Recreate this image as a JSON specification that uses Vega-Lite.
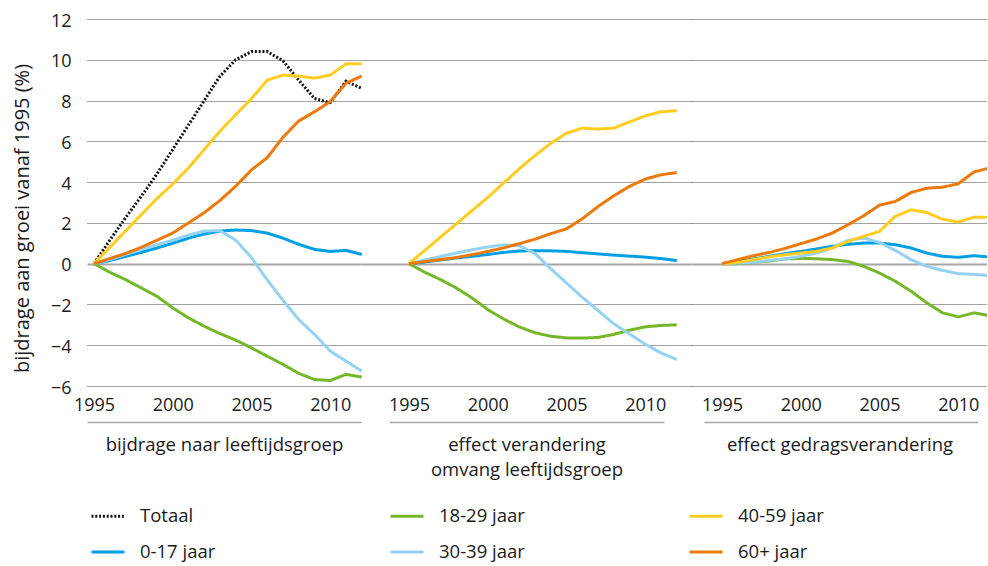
{
  "$schema": "https://vega.github.io/schema/vega-lite/v6.json",
  "background": "white",
  "padding": {"left": 12, "top": 12, "right": 0, "bottom": 0},
  "config": {
    "font": "Open Sans",
    "view": {"stroke": null},
    "axis": {"labelColor": "#1a1a1a", "titleColor": "#1a1a1a", "titleFontWeight": "normal"}
  },
  "datasets": {
    "bijdrage": [
      {"reeks": "Totaal", "jaar": 1995, "waarde": 0}, {"reeks": "Totaal", "jaar": 1996, "waarde": 1.15}, {"reeks": "Totaal", "jaar": 1997, "waarde": 2.25}, {"reeks": "Totaal", "jaar": 1998, "waarde": 3.3}, {"reeks": "Totaal", "jaar": 1999, "waarde": 4.4}, {"reeks": "Totaal", "jaar": 2000, "waarde": 5.6}, {"reeks": "Totaal", "jaar": 2001, "waarde": 6.8}, {"reeks": "Totaal", "jaar": 2002, "waarde": 8.0}, {"reeks": "Totaal", "jaar": 2003, "waarde": 9.2}, {"reeks": "Totaal", "jaar": 2004, "waarde": 10.0}, {"reeks": "Totaal", "jaar": 2005, "waarde": 10.4}, {"reeks": "Totaal", "jaar": 2006, "waarde": 10.4}, {"reeks": "Totaal", "jaar": 2007, "waarde": 9.95}, {"reeks": "Totaal", "jaar": 2008, "waarde": 9.0}, {"reeks": "Totaal", "jaar": 2009, "waarde": 8.1}, {"reeks": "Totaal", "jaar": 2010, "waarde": 7.9}, {"reeks": "Totaal", "jaar": 2011, "waarde": 8.95}, {"reeks": "Totaal", "jaar": 2012, "waarde": 8.6},
      {"reeks": "0-17 jaar", "jaar": 1995, "waarde": 0}, {"reeks": "0-17 jaar", "jaar": 1996, "waarde": 0.15}, {"reeks": "0-17 jaar", "jaar": 1997, "waarde": 0.35}, {"reeks": "0-17 jaar", "jaar": 1998, "waarde": 0.55}, {"reeks": "0-17 jaar", "jaar": 1999, "waarde": 0.77}, {"reeks": "0-17 jaar", "jaar": 2000, "waarde": 1.0}, {"reeks": "0-17 jaar", "jaar": 2001, "waarde": 1.25}, {"reeks": "0-17 jaar", "jaar": 2002, "waarde": 1.45}, {"reeks": "0-17 jaar", "jaar": 2003, "waarde": 1.6}, {"reeks": "0-17 jaar", "jaar": 2004, "waarde": 1.65}, {"reeks": "0-17 jaar", "jaar": 2005, "waarde": 1.62}, {"reeks": "0-17 jaar", "jaar": 2006, "waarde": 1.5}, {"reeks": "0-17 jaar", "jaar": 2007, "waarde": 1.25}, {"reeks": "0-17 jaar", "jaar": 2008, "waarde": 0.95}, {"reeks": "0-17 jaar", "jaar": 2009, "waarde": 0.7}, {"reeks": "0-17 jaar", "jaar": 2010, "waarde": 0.6}, {"reeks": "0-17 jaar", "jaar": 2011, "waarde": 0.65}, {"reeks": "0-17 jaar", "jaar": 2012, "waarde": 0.45},
      {"reeks": "18-29 jaar", "jaar": 1995, "waarde": 0}, {"reeks": "18-29 jaar", "jaar": 1996, "waarde": -0.42}, {"reeks": "18-29 jaar", "jaar": 1997, "waarde": -0.78}, {"reeks": "18-29 jaar", "jaar": 1998, "waarde": -1.19}, {"reeks": "18-29 jaar", "jaar": 1999, "waarde": -1.6}, {"reeks": "18-29 jaar", "jaar": 2000, "waarde": -2.17}, {"reeks": "18-29 jaar", "jaar": 2001, "waarde": -2.66}, {"reeks": "18-29 jaar", "jaar": 2002, "waarde": -3.07}, {"reeks": "18-29 jaar", "jaar": 2003, "waarde": -3.43}, {"reeks": "18-29 jaar", "jaar": 2004, "waarde": -3.75}, {"reeks": "18-29 jaar", "jaar": 2005, "waarde": -4.13}, {"reeks": "18-29 jaar", "jaar": 2006, "waarde": -4.54}, {"reeks": "18-29 jaar", "jaar": 2007, "waarde": -4.94}, {"reeks": "18-29 jaar", "jaar": 2008, "waarde": -5.38}, {"reeks": "18-29 jaar", "jaar": 2009, "waarde": -5.68}, {"reeks": "18-29 jaar", "jaar": 2010, "waarde": -5.73}, {"reeks": "18-29 jaar", "jaar": 2011, "waarde": -5.43}, {"reeks": "18-29 jaar", "jaar": 2012, "waarde": -5.56},
      {"reeks": "30-39 jaar", "jaar": 1995, "waarde": 0}, {"reeks": "30-39 jaar", "jaar": 1996, "waarde": 0.2}, {"reeks": "30-39 jaar", "jaar": 1997, "waarde": 0.45}, {"reeks": "30-39 jaar", "jaar": 1998, "waarde": 0.7}, {"reeks": "30-39 jaar", "jaar": 1999, "waarde": 0.93}, {"reeks": "30-39 jaar", "jaar": 2000, "waarde": 1.15}, {"reeks": "30-39 jaar", "jaar": 2001, "waarde": 1.4}, {"reeks": "30-39 jaar", "jaar": 2002, "waarde": 1.6}, {"reeks": "30-39 jaar", "jaar": 2003, "waarde": 1.62}, {"reeks": "30-39 jaar", "jaar": 2004, "waarde": 1.15}, {"reeks": "30-39 jaar", "jaar": 2005, "waarde": 0.3}, {"reeks": "30-39 jaar", "jaar": 2006, "waarde": -0.8}, {"reeks": "30-39 jaar", "jaar": 2007, "waarde": -1.8}, {"reeks": "30-39 jaar", "jaar": 2008, "waarde": -2.74}, {"reeks": "30-39 jaar", "jaar": 2009, "waarde": -3.47}, {"reeks": "30-39 jaar", "jaar": 2010, "waarde": -4.29}, {"reeks": "30-39 jaar", "jaar": 2011, "waarde": -4.78}, {"reeks": "30-39 jaar", "jaar": 2012, "waarde": -5.27},
      {"reeks": "40-59 jaar", "jaar": 1995, "waarde": 0}, {"reeks": "40-59 jaar", "jaar": 1996, "waarde": 0.8}, {"reeks": "40-59 jaar", "jaar": 1997, "waarde": 1.6}, {"reeks": "40-59 jaar", "jaar": 1998, "waarde": 2.4}, {"reeks": "40-59 jaar", "jaar": 1999, "waarde": 3.2}, {"reeks": "40-59 jaar", "jaar": 2000, "waarde": 3.9}, {"reeks": "40-59 jaar", "jaar": 2001, "waarde": 4.7}, {"reeks": "40-59 jaar", "jaar": 2002, "waarde": 5.6}, {"reeks": "40-59 jaar", "jaar": 2003, "waarde": 6.5}, {"reeks": "40-59 jaar", "jaar": 2004, "waarde": 7.3}, {"reeks": "40-59 jaar", "jaar": 2005, "waarde": 8.1}, {"reeks": "40-59 jaar", "jaar": 2006, "waarde": 9.0}, {"reeks": "40-59 jaar", "jaar": 2007, "waarde": 9.25}, {"reeks": "40-59 jaar", "jaar": 2008, "waarde": 9.2}, {"reeks": "40-59 jaar", "jaar": 2009, "waarde": 9.1}, {"reeks": "40-59 jaar", "jaar": 2010, "waarde": 9.25}, {"reeks": "40-59 jaar", "jaar": 2011, "waarde": 9.8}, {"reeks": "40-59 jaar", "jaar": 2012, "waarde": 9.8},
      {"reeks": "60+ jaar", "jaar": 1995, "waarde": 0}, {"reeks": "60+ jaar", "jaar": 1996, "waarde": 0.25}, {"reeks": "60+ jaar", "jaar": 1997, "waarde": 0.5}, {"reeks": "60+ jaar", "jaar": 1998, "waarde": 0.8}, {"reeks": "60+ jaar", "jaar": 1999, "waarde": 1.15}, {"reeks": "60+ jaar", "jaar": 2000, "waarde": 1.5}, {"reeks": "60+ jaar", "jaar": 2001, "waarde": 2.0}, {"reeks": "60+ jaar", "jaar": 2002, "waarde": 2.5}, {"reeks": "60+ jaar", "jaar": 2003, "waarde": 3.1}, {"reeks": "60+ jaar", "jaar": 2004, "waarde": 3.8}, {"reeks": "60+ jaar", "jaar": 2005, "waarde": 4.6}, {"reeks": "60+ jaar", "jaar": 2006, "waarde": 5.2}, {"reeks": "60+ jaar", "jaar": 2007, "waarde": 6.2}, {"reeks": "60+ jaar", "jaar": 2008, "waarde": 7.0}, {"reeks": "60+ jaar", "jaar": 2009, "waarde": 7.45}, {"reeks": "60+ jaar", "jaar": 2010, "waarde": 7.95}, {"reeks": "60+ jaar", "jaar": 2011, "waarde": 8.85}, {"reeks": "60+ jaar", "jaar": 2012, "waarde": 9.2}
    ],
    "omvang": [
      {"reeks": "0-17 jaar", "jaar": 1995, "waarde": 0}, {"reeks": "0-17 jaar", "jaar": 1996, "waarde": 0.08}, {"reeks": "0-17 jaar", "jaar": 1997, "waarde": 0.18}, {"reeks": "0-17 jaar", "jaar": 1998, "waarde": 0.28}, {"reeks": "0-17 jaar", "jaar": 1999, "waarde": 0.36}, {"reeks": "0-17 jaar", "jaar": 2000, "waarde": 0.45}, {"reeks": "0-17 jaar", "jaar": 2001, "waarde": 0.55}, {"reeks": "0-17 jaar", "jaar": 2002, "waarde": 0.62}, {"reeks": "0-17 jaar", "jaar": 2003, "waarde": 0.64}, {"reeks": "0-17 jaar", "jaar": 2004, "waarde": 0.63}, {"reeks": "0-17 jaar", "jaar": 2005, "waarde": 0.6}, {"reeks": "0-17 jaar", "jaar": 2006, "waarde": 0.54}, {"reeks": "0-17 jaar", "jaar": 2007, "waarde": 0.48}, {"reeks": "0-17 jaar", "jaar": 2008, "waarde": 0.42}, {"reeks": "0-17 jaar", "jaar": 2009, "waarde": 0.37}, {"reeks": "0-17 jaar", "jaar": 2010, "waarde": 0.32}, {"reeks": "0-17 jaar", "jaar": 2011, "waarde": 0.25}, {"reeks": "0-17 jaar", "jaar": 2012, "waarde": 0.15},
      {"reeks": "18-29 jaar", "jaar": 1995, "waarde": 0}, {"reeks": "18-29 jaar", "jaar": 1996, "waarde": -0.42}, {"reeks": "18-29 jaar", "jaar": 1997, "waarde": -0.78}, {"reeks": "18-29 jaar", "jaar": 1998, "waarde": -1.19}, {"reeks": "18-29 jaar", "jaar": 1999, "waarde": -1.68}, {"reeks": "18-29 jaar", "jaar": 2000, "waarde": -2.25}, {"reeks": "18-29 jaar", "jaar": 2001, "waarde": -2.71}, {"reeks": "18-29 jaar", "jaar": 2002, "waarde": -3.1}, {"reeks": "18-29 jaar", "jaar": 2003, "waarde": -3.39}, {"reeks": "18-29 jaar", "jaar": 2004, "waarde": -3.56}, {"reeks": "18-29 jaar", "jaar": 2005, "waarde": -3.64}, {"reeks": "18-29 jaar", "jaar": 2006, "waarde": -3.65}, {"reeks": "18-29 jaar", "jaar": 2007, "waarde": -3.62}, {"reeks": "18-29 jaar", "jaar": 2008, "waarde": -3.47}, {"reeks": "18-29 jaar", "jaar": 2009, "waarde": -3.26}, {"reeks": "18-29 jaar", "jaar": 2010, "waarde": -3.1}, {"reeks": "18-29 jaar", "jaar": 2011, "waarde": -3.03}, {"reeks": "18-29 jaar", "jaar": 2012, "waarde": -3.0},
      {"reeks": "30-39 jaar", "jaar": 1995, "waarde": 0}, {"reeks": "30-39 jaar", "jaar": 1996, "waarde": 0.18}, {"reeks": "30-39 jaar", "jaar": 1997, "waarde": 0.35}, {"reeks": "30-39 jaar", "jaar": 1998, "waarde": 0.52}, {"reeks": "30-39 jaar", "jaar": 1999, "waarde": 0.68}, {"reeks": "30-39 jaar", "jaar": 2000, "waarde": 0.82}, {"reeks": "30-39 jaar", "jaar": 2001, "waarde": 0.92}, {"reeks": "30-39 jaar", "jaar": 2002, "waarde": 0.88}, {"reeks": "30-39 jaar", "jaar": 2003, "waarde": 0.5}, {"reeks": "30-39 jaar", "jaar": 2004, "waarde": -0.25}, {"reeks": "30-39 jaar", "jaar": 2005, "waarde": -0.95}, {"reeks": "30-39 jaar", "jaar": 2006, "waarde": -1.65}, {"reeks": "30-39 jaar", "jaar": 2007, "waarde": -2.3}, {"reeks": "30-39 jaar", "jaar": 2008, "waarde": -2.95}, {"reeks": "30-39 jaar", "jaar": 2009, "waarde": -3.45}, {"reeks": "30-39 jaar", "jaar": 2010, "waarde": -3.95}, {"reeks": "30-39 jaar", "jaar": 2011, "waarde": -4.38}, {"reeks": "30-39 jaar", "jaar": 2012, "waarde": -4.7},
      {"reeks": "40-59 jaar", "jaar": 1995, "waarde": 0}, {"reeks": "40-59 jaar", "jaar": 1996, "waarde": 0.65}, {"reeks": "40-59 jaar", "jaar": 1997, "waarde": 1.3}, {"reeks": "40-59 jaar", "jaar": 1998, "waarde": 1.95}, {"reeks": "40-59 jaar", "jaar": 1999, "waarde": 2.6}, {"reeks": "40-59 jaar", "jaar": 2000, "waarde": 3.25}, {"reeks": "40-59 jaar", "jaar": 2001, "waarde": 3.95}, {"reeks": "40-59 jaar", "jaar": 2002, "waarde": 4.65}, {"reeks": "40-59 jaar", "jaar": 2003, "waarde": 5.3}, {"reeks": "40-59 jaar", "jaar": 2004, "waarde": 5.9}, {"reeks": "40-59 jaar", "jaar": 2005, "waarde": 6.4}, {"reeks": "40-59 jaar", "jaar": 2006, "waarde": 6.65}, {"reeks": "40-59 jaar", "jaar": 2007, "waarde": 6.6}, {"reeks": "40-59 jaar", "jaar": 2008, "waarde": 6.65}, {"reeks": "40-59 jaar", "jaar": 2009, "waarde": 6.95}, {"reeks": "40-59 jaar", "jaar": 2010, "waarde": 7.25}, {"reeks": "40-59 jaar", "jaar": 2011, "waarde": 7.45}, {"reeks": "40-59 jaar", "jaar": 2012, "waarde": 7.5},
      {"reeks": "60+ jaar", "jaar": 1995, "waarde": 0}, {"reeks": "60+ jaar", "jaar": 1996, "waarde": 0.1}, {"reeks": "60+ jaar", "jaar": 1997, "waarde": 0.2}, {"reeks": "60+ jaar", "jaar": 1998, "waarde": 0.3}, {"reeks": "60+ jaar", "jaar": 1999, "waarde": 0.44}, {"reeks": "60+ jaar", "jaar": 2000, "waarde": 0.6}, {"reeks": "60+ jaar", "jaar": 2001, "waarde": 0.77}, {"reeks": "60+ jaar", "jaar": 2002, "waarde": 0.98}, {"reeks": "60+ jaar", "jaar": 2003, "waarde": 1.2}, {"reeks": "60+ jaar", "jaar": 2004, "waarde": 1.47}, {"reeks": "60+ jaar", "jaar": 2005, "waarde": 1.71}, {"reeks": "60+ jaar", "jaar": 2006, "waarde": 2.2}, {"reeks": "60+ jaar", "jaar": 2007, "waarde": 2.8}, {"reeks": "60+ jaar", "jaar": 2008, "waarde": 3.33}, {"reeks": "60+ jaar", "jaar": 2009, "waarde": 3.79}, {"reeks": "60+ jaar", "jaar": 2010, "waarde": 4.15}, {"reeks": "60+ jaar", "jaar": 2011, "waarde": 4.36}, {"reeks": "60+ jaar", "jaar": 2012, "waarde": 4.47}
    ],
    "gedrag": [
      {"reeks": "0-17 jaar", "jaar": 1995, "waarde": 0}, {"reeks": "0-17 jaar", "jaar": 1996, "waarde": 0.11}, {"reeks": "0-17 jaar", "jaar": 1997, "waarde": 0.23}, {"reeks": "0-17 jaar", "jaar": 1998, "waarde": 0.36}, {"reeks": "0-17 jaar", "jaar": 1999, "waarde": 0.49}, {"reeks": "0-17 jaar", "jaar": 2000, "waarde": 0.6}, {"reeks": "0-17 jaar", "jaar": 2001, "waarde": 0.72}, {"reeks": "0-17 jaar", "jaar": 2002, "waarde": 0.85}, {"reeks": "0-17 jaar", "jaar": 2003, "waarde": 0.95}, {"reeks": "0-17 jaar", "jaar": 2004, "waarde": 1.01}, {"reeks": "0-17 jaar", "jaar": 2005, "waarde": 1.01}, {"reeks": "0-17 jaar", "jaar": 2006, "waarde": 0.93}, {"reeks": "0-17 jaar", "jaar": 2007, "waarde": 0.77}, {"reeks": "0-17 jaar", "jaar": 2008, "waarde": 0.52}, {"reeks": "0-17 jaar", "jaar": 2009, "waarde": 0.36}, {"reeks": "0-17 jaar", "jaar": 2010, "waarde": 0.31}, {"reeks": "0-17 jaar", "jaar": 2011, "waarde": 0.39}, {"reeks": "0-17 jaar", "jaar": 2012, "waarde": 0.33},
      {"reeks": "18-29 jaar", "jaar": 1995, "waarde": 0}, {"reeks": "18-29 jaar", "jaar": 1996, "waarde": 0.0}, {"reeks": "18-29 jaar", "jaar": 1997, "waarde": 0.07}, {"reeks": "18-29 jaar", "jaar": 1998, "waarde": 0.13}, {"reeks": "18-29 jaar", "jaar": 1999, "waarde": 0.23}, {"reeks": "18-29 jaar", "jaar": 2000, "waarde": 0.26}, {"reeks": "18-29 jaar", "jaar": 2001, "waarde": 0.24}, {"reeks": "18-29 jaar", "jaar": 2002, "waarde": 0.2}, {"reeks": "18-29 jaar", "jaar": 2003, "waarde": 0.11}, {"reeks": "18-29 jaar", "jaar": 2004, "waarde": -0.13}, {"reeks": "18-29 jaar", "jaar": 2005, "waarde": -0.46}, {"reeks": "18-29 jaar", "jaar": 2006, "waarde": -0.86}, {"reeks": "18-29 jaar", "jaar": 2007, "waarde": -1.35}, {"reeks": "18-29 jaar", "jaar": 2008, "waarde": -1.92}, {"reeks": "18-29 jaar", "jaar": 2009, "waarde": -2.41}, {"reeks": "18-29 jaar", "jaar": 2010, "waarde": -2.61}, {"reeks": "18-29 jaar", "jaar": 2011, "waarde": -2.41}, {"reeks": "18-29 jaar", "jaar": 2012, "waarde": -2.55},
      {"reeks": "30-39 jaar", "jaar": 1995, "waarde": 0}, {"reeks": "30-39 jaar", "jaar": 1996, "waarde": 0.03}, {"reeks": "30-39 jaar", "jaar": 1997, "waarde": 0.07}, {"reeks": "30-39 jaar", "jaar": 1998, "waarde": 0.16}, {"reeks": "30-39 jaar", "jaar": 1999, "waarde": 0.23}, {"reeks": "30-39 jaar", "jaar": 2000, "waarde": 0.36}, {"reeks": "30-39 jaar", "jaar": 2001, "waarde": 0.52}, {"reeks": "30-39 jaar", "jaar": 2002, "waarde": 0.77}, {"reeks": "30-39 jaar", "jaar": 2003, "waarde": 1.14}, {"reeks": "30-39 jaar", "jaar": 2004, "waarde": 1.26}, {"reeks": "30-39 jaar", "jaar": 2005, "waarde": 1.04}, {"reeks": "30-39 jaar", "jaar": 2006, "waarde": 0.65}, {"reeks": "30-39 jaar", "jaar": 2007, "waarde": 0.2}, {"reeks": "30-39 jaar", "jaar": 2008, "waarde": -0.13}, {"reeks": "30-39 jaar", "jaar": 2009, "waarde": -0.33}, {"reeks": "30-39 jaar", "jaar": 2010, "waarde": -0.49}, {"reeks": "30-39 jaar", "jaar": 2011, "waarde": -0.52}, {"reeks": "30-39 jaar", "jaar": 2012, "waarde": -0.59},
      {"reeks": "40-59 jaar", "jaar": 1995, "waarde": 0}, {"reeks": "40-59 jaar", "jaar": 1996, "waarde": 0.07}, {"reeks": "40-59 jaar", "jaar": 1997, "waarde": 0.2}, {"reeks": "40-59 jaar", "jaar": 1998, "waarde": 0.33}, {"reeks": "40-59 jaar", "jaar": 1999, "waarde": 0.44}, {"reeks": "40-59 jaar", "jaar": 2000, "waarde": 0.52}, {"reeks": "40-59 jaar", "jaar": 2001, "waarde": 0.6}, {"reeks": "40-59 jaar", "jaar": 2002, "waarde": 0.77}, {"reeks": "40-59 jaar", "jaar": 2003, "waarde": 1.09}, {"reeks": "40-59 jaar", "jaar": 2004, "waarde": 1.34}, {"reeks": "40-59 jaar", "jaar": 2005, "waarde": 1.58}, {"reeks": "40-59 jaar", "jaar": 2006, "waarde": 2.32}, {"reeks": "40-59 jaar", "jaar": 2007, "waarde": 2.64}, {"reeks": "40-59 jaar", "jaar": 2008, "waarde": 2.51}, {"reeks": "40-59 jaar", "jaar": 2009, "waarde": 2.18}, {"reeks": "40-59 jaar", "jaar": 2010, "waarde": 2.04}, {"reeks": "40-59 jaar", "jaar": 2011, "waarde": 2.28}, {"reeks": "40-59 jaar", "jaar": 2012, "waarde": 2.27},
      {"reeks": "60+ jaar", "jaar": 1995, "waarde": 0}, {"reeks": "60+ jaar", "jaar": 1996, "waarde": 0.2}, {"reeks": "60+ jaar", "jaar": 1997, "waarde": 0.39}, {"reeks": "60+ jaar", "jaar": 1998, "waarde": 0.55}, {"reeks": "60+ jaar", "jaar": 1999, "waarde": 0.75}, {"reeks": "60+ jaar", "jaar": 2000, "waarde": 0.98}, {"reeks": "60+ jaar", "jaar": 2001, "waarde": 1.21}, {"reeks": "60+ jaar", "jaar": 2002, "waarde": 1.5}, {"reeks": "60+ jaar", "jaar": 2003, "waarde": 1.91}, {"reeks": "60+ jaar", "jaar": 2004, "waarde": 2.35}, {"reeks": "60+ jaar", "jaar": 2005, "waarde": 2.87}, {"reeks": "60+ jaar", "jaar": 2006, "waarde": 3.05}, {"reeks": "60+ jaar", "jaar": 2007, "waarde": 3.49}, {"reeks": "60+ jaar", "jaar": 2008, "waarde": 3.7}, {"reeks": "60+ jaar", "jaar": 2009, "waarde": 3.75}, {"reeks": "60+ jaar", "jaar": 2010, "waarde": 3.92}, {"reeks": "60+ jaar", "jaar": 2011, "waarde": 4.5}, {"reeks": "60+ jaar", "jaar": 2012, "waarde": 4.7}
    ]
  },
  "hconcat": [
    {
      "data": {"name": "bijdrage"},
      "width": 274, "height": 367,
      "mark": {"type": "line", "strokeWidth": 3},
      "encoding": {
        "x": {"field": "jaar", "type": "quantitative",
          "scale": {"domain": [1994.556, 2011.953], "nice": false, "zero": false},
          "axis": {"values": [1995, 2000, 2005, 2010], "format": "d", "labelFlush": false, "ticks": false, "grid": false, "domainColor": "#a6a6a6", "domainWidth": 1.5, "offset": 36, "labelBaseline": "alphabetic", "labelPadding": -12, "labelFontSize": 18, "title": "bijdrage naar leeftijdsgroep", "titleFontSize": 18.5, "titlePadding": 13, "titleLineHeight": 25}},
        "y": {"field": "waarde", "type": "quantitative",
          "scale": {"domain": [-6, 12], "nice": false, "zero": false},
          "axis": {"values": [-6, -4, -2, 0, 2, 4, 6, 8, 10, 12], "ticks": false, "domain": false, "labelPadding": 16, "labelFontSize": 18, "labelFlush": false, "labelOffset": 2,
            "gridDash": {"condition": {"test": "datum.value === 0", "value": [1, 0]}, "value": [1, 1]},
            "gridColor": {"condition": {"test": "datum.value === 0", "value": "#a6a6a6"}, "value": "#444444"},
            "gridWidth": {"condition": {"test": "datum.value === 0", "value": 2}, "value": 1},
            "title": "bijdrage aan groei vanaf 1995 (%)", "titleFontSize": 20, "titlePadding": 18, "titleY": 199}},
        "color": {"field": "reeks", "type": "nominal",
          "scale": {"domain": ["Totaal", "0-17 jaar", "18-29 jaar", "30-39 jaar", "40-59 jaar", "60+ jaar"], "range": ["#111111", "#009fe3", "#76b72a", "#95d1f2", "#ffcc22", "#eb7a0c"]},
          "legend": {"title": null, "orient": "none", "legendX": 3, "legendY": 479, "columns": 3, "gridAlign": "all", "columnPadding": 158, "rowPadding": 8, "symbolType": "stroke", "symbolSize": 1089, "symbolStrokeWidth": 3, "labelFontSize": 18.5, "labelOffset": 14, "labelColor": "#1a1a1a", "padding": 0}},
        "strokeDash": {"field": "reeks", "type": "nominal",
          "scale": {"domain": ["Totaal", "0-17 jaar", "18-29 jaar", "30-39 jaar", "40-59 jaar", "60+ jaar"], "range": [[2, 1.8], [1, 0], [1, 0], [1, 0], [1, 0], [1, 0]]},
          "legend": {"title": null, "orient": "none", "legendX": 3, "legendY": 479, "columns": 3, "gridAlign": "all", "columnPadding": 158, "rowPadding": 8, "symbolType": "stroke", "symbolSize": 1089, "symbolStrokeWidth": 3, "labelFontSize": 18.5, "labelOffset": 14, "labelColor": "#1a1a1a", "padding": 0}}
      }
    },
    {
      "data": {"name": "omvang"},
      "width": 331, "height": 367,
      "mark": {"type": "line", "strokeWidth": 3},
      "encoding": {
        "x": {"field": "jaar", "type": "quantitative",
          "scale": {"domain": [1991.952, 2012.968], "nice": false, "zero": false},
          "axis": {"values": [1995, 2000, 2005, 2010], "format": "d", "labelFlush": false, "ticks": false, "grid": false, "domainColor": "#a6a6a6", "domainWidth": 1.5, "domainDash": [0, 28, 275, 1000], "offset": 36, "labelBaseline": "alphabetic", "labelPadding": -12, "labelFontSize": 18, "title": ["effect verandering", "omvang leeftijdsgroep"], "titleFontSize": 18.5, "titlePadding": 13, "titleLineHeight": 25}},
        "y": {"field": "waarde", "type": "quantitative",
          "scale": {"domain": [-6, 12], "nice": false, "zero": false},
          "axis": {"values": [-6, -4, -2, 0, 2, 4, 6, 8, 10, 12], "ticks": false, "domain": false, "labels": false, "title": null,
            "gridDash": {"condition": {"test": "datum.value === 0", "value": [1, 0]}, "value": [1, 1]},
            "gridColor": {"condition": {"test": "datum.value === 0", "value": "#a6a6a6"}, "value": "#444444"},
            "gridWidth": {"condition": {"test": "datum.value === 0", "value": 2}, "value": 1}}},
        "color": {"field": "reeks", "type": "nominal",
          "scale": {"domain": ["Totaal", "0-17 jaar", "18-29 jaar", "30-39 jaar", "40-59 jaar", "60+ jaar"], "range": ["#111111", "#009fe3", "#76b72a", "#95d1f2", "#ffcc22", "#eb7a0c"]},
          "legend": {"title": null, "orient": "none", "legendX": 3, "legendY": 479, "columns": 3, "gridAlign": "all", "columnPadding": 158, "rowPadding": 8, "symbolType": "stroke", "symbolSize": 1089, "symbolStrokeWidth": 3, "labelFontSize": 18.5, "labelOffset": 14, "labelColor": "#1a1a1a", "padding": 0}},
        "strokeDash": {"field": "reeks", "type": "nominal",
          "scale": {"domain": ["Totaal", "0-17 jaar", "18-29 jaar", "30-39 jaar", "40-59 jaar", "60+ jaar"], "range": [[2, 1.8], [1, 0], [1, 0], [1, 0], [1, 0], [1, 0]]},
          "legend": {"title": null, "orient": "none", "legendX": 3, "legendY": 479, "columns": 3, "gridAlign": "all", "columnPadding": 158, "rowPadding": 8, "symbolType": "stroke", "symbolSize": 1089, "symbolStrokeWidth": 3, "labelFontSize": 18.5, "labelOffset": 14, "labelColor": "#1a1a1a", "padding": 0}}
      }
    },
    {
      "data": {"name": "gedrag"},
      "width": 295, "height": 367,
      "mark": {"type": "line", "strokeWidth": 3, "clip": true},
      "encoding": {
        "x": {"field": "jaar", "type": "quantitative",
          "scale": {"domain": [1993.095, 2011.825], "nice": false, "zero": false},
          "axis": {"values": [1995, 2000, 2005, 2010], "format": "d", "labelFlush": false, "ticks": false, "grid": false, "domainColor": "#a6a6a6", "domainWidth": 1.5, "domainDash": [0, 12, 274, 1000], "offset": 36, "labelBaseline": "alphabetic", "labelPadding": -12, "labelFontSize": 18, "title": "effect gedragsverandering", "titleFontSize": 18.5, "titlePadding": 13, "titleLineHeight": 25}},
        "y": {"field": "waarde", "type": "quantitative",
          "scale": {"domain": [-6, 12], "nice": false, "zero": false},
          "axis": {"values": [-6, -4, -2, 0, 2, 4, 6, 8, 10, 12], "ticks": false, "domain": false, "labels": false, "title": null,
            "gridDash": {"condition": {"test": "datum.value === 0", "value": [1, 0]}, "value": [1, 1]},
            "gridColor": {"condition": {"test": "datum.value === 0", "value": "#a6a6a6"}, "value": "#444444"},
            "gridWidth": {"condition": {"test": "datum.value === 0", "value": 2}, "value": 1}}},
        "color": {"field": "reeks", "type": "nominal",
          "scale": {"domain": ["Totaal", "0-17 jaar", "18-29 jaar", "30-39 jaar", "40-59 jaar", "60+ jaar"], "range": ["#111111", "#009fe3", "#76b72a", "#95d1f2", "#ffcc22", "#eb7a0c"]},
          "legend": {"title": null, "orient": "none", "legendX": 3, "legendY": 479, "columns": 3, "gridAlign": "all", "columnPadding": 158, "rowPadding": 8, "symbolType": "stroke", "symbolSize": 1089, "symbolStrokeWidth": 3, "labelFontSize": 18.5, "labelOffset": 14, "labelColor": "#1a1a1a", "padding": 0}},
        "strokeDash": {"field": "reeks", "type": "nominal",
          "scale": {"domain": ["Totaal", "0-17 jaar", "18-29 jaar", "30-39 jaar", "40-59 jaar", "60+ jaar"], "range": [[2, 1.8], [1, 0], [1, 0], [1, 0], [1, 0], [1, 0]]},
          "legend": {"title": null, "orient": "none", "legendX": 3, "legendY": 479, "columns": 3, "gridAlign": "all", "columnPadding": 158, "rowPadding": 8, "symbolType": "stroke", "symbolSize": 1089, "symbolStrokeWidth": 3, "labelFontSize": 18.5, "labelOffset": 14, "labelColor": "#1a1a1a", "padding": 0}}
      }
    }
  ],
  "spacing": 0,
  "bounds": "flush",
  "resolve": {"scale": {"color": "shared", "strokeDash": "shared"}}
}
